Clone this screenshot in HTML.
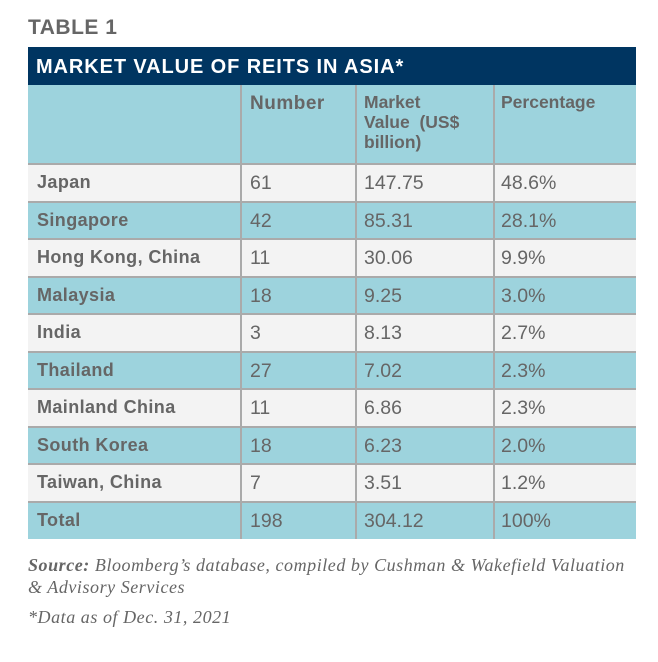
<!DOCTYPE html>
<html><head><meta charset="utf-8"><style>
body{margin:0;width:658px;height:662px;background:#fff;position:relative;overflow:hidden;font-family:"Liberation Sans",sans-serif;color:#666}
.a{position:absolute}
.title{left:28px;top:16px;font-size:21px;font-weight:bold;color:#666;letter-spacing:0.5px}
.bar{left:28px;top:47px;width:608px;height:38px;background:#003561;color:#fff;font-weight:bold;font-size:20px;line-height:40px;box-sizing:border-box;padding-left:8px;letter-spacing:0.9px}
.hd{left:28px;top:85px;width:608px;height:79px;background:#9dd3dd}
.cell{position:absolute;font-size:18px;white-space:nowrap}
.vl{position:absolute;width:2px;background:#aaa}
.hl{position:absolute;left:28px;width:608px;height:2px;background:#aaa}
.src{left:28px;font-family:"Liberation Serif",serif;font-style:italic;font-size:18px;letter-spacing:0.55px;color:#666;line-height:22px;white-space:nowrap}
</style></head><body>
<div class="a title">TABLE 1</div>
<div class="a bar">MARKET VALUE OF REITS IN ASIA*</div>
<div class="a hd">
<div class="cell" style="left:222px;top:8px;font-weight:bold;font-size:19px;letter-spacing:0.5px">Number</div>
<div class="cell" style="left:336px;top:7px;font-weight:bold;line-height:20px;font-size:17.5px">Market<br>Value&nbsp; (US$<br>billion)</div>
<div class="cell" style="left:473px;top:7px;font-weight:bold;font-size:17.5px">Percentage</div>
</div>
<div id="rows"></div>
<div class="a src" style="top:554px"><b>Source:</b> Bloomberg’s database, compiled by Cushman &amp; Wakefield Valuation<br>&amp; Advisory Services</div>
<div class="a src" style="top:606px">*Data as of Dec. 31, 2021</div>
<script>
const countries=["Japan","Singapore","Hong Kong, China","Malaysia","India","Thailand","Mainland China","South Korea","Taiwan, China","Total"];
const numbers=["61","42","11","18","3","27","11","18","7","198"];
const values=["147.75","85.31","30.06","9.25","8.13","7.02","6.86","6.23","3.51","304.12"];
const percents=["48.6%","28.1%","9.9%","3.0%","2.7%","2.3%","2.3%","2.0%","1.2%","100%"];
const root=document.getElementById('rows');
const top0=164,rh=37.5;
countries.forEach((c,i)=>{
  const r=document.createElement('div');
  
  
  r.className='a';
  r.style.cssText=`left:28px;top:${top0+i*rh}px;width:608px;height:${rh}px;background:${i%2?'#9dd3dd':'#f3f3f3'}`;
  const cols=[[9,c,true],[222,numbers[i]],[336,values[i]],[473,percents[i]]];
  cols.forEach((k,j)=>{
    const d=document.createElement('div');
    
    
    d.className='cell';
    d.style.cssText=`left:${k[0]}px;top:8px;${k[2]?'font-weight:bold;letter-spacing:0.4px;':'font-size:19.5px;'}`;
    d.textContent=k[1];
    r.appendChild(d);
  });
  root.appendChild(r);
  const h=document.createElement('div');
  
  
  h.className='hl';h.style.top=(top0+i*rh-1)+'px';
  root.appendChild(h);
});
[241,356,494].forEach(x=>{
  const v=document.createElement('div');
  
  
  v.className='vl';v.style.cssText=`left:${x-1}px;top:85px;height:454px`;
  root.appendChild(v);
});
</script>
</body></html>
